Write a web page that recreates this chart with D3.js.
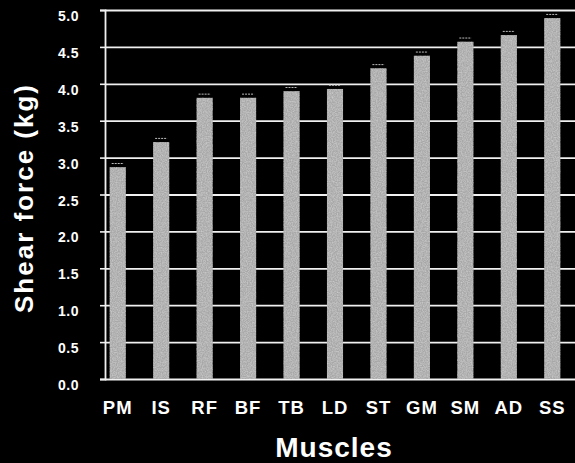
<!DOCTYPE html>
<html>
<head>
<meta charset="utf-8">
<script src="https://d3js.org/d3.v7.min.js"></script>
<style>
  body { margin: 0; background: #000; }
  text { font-family: "Liberation Sans", Arial, sans-serif; font-weight: bold; fill: #fff; }
</style>
</head>
<body>
<div id="chart"></div>
<script>
// muscles and mean shear force (kg)
const muscles = ["PM", "IS", "RF", "BF", "TB", "LD", "ST", "GM", "SM", "AD", "SS"];
const shearForce = [2.87, 3.21, 3.81, 3.81, 3.90, 3.93, 4.21, 4.38, 4.57, 4.66, 4.89];
const errorBar = [0.05, 0.05, 0.05, 0.05, 0.05, 0.05, 0.05, 0.05, 0.05, 0.05, 0.05];
const yTicks = [0, 0.5, 1, 1.5, 2, 2.5, 3, 3.5, 4, 4.5, 5];

const width = 575, height = 463;

const svg = d3.select("#chart")
    .append("svg")
    .attr("width", width)
    .attr("height", height);

svg.append("rect").attr("width", width).attr("height", height).attr("fill", "#000");

// grainy texture for the bars
const defs = svg.append("defs");
const f = defs.append("filter").attr("id", "grain")
    .attr("x", 0).attr("y", 0).attr("width", 1).attr("height", 1);
f.append("feTurbulence").attr("type", "fractalNoise")
    .attr("baseFrequency", 0.8).attr("numOctaves", 2).attr("seed", 3).attr("result", "noise");
f.append("feColorMatrix").attr("in", "noise").attr("type", "matrix")
    .attr("values", "0 0 0 0 0.6  0 0 0 0 0.6  0 0 0 0 0.6  0 0 0 -1.6 1.1")
    .attr("result", "speck");
f.append("feComposite").attr("in", "speck").attr("in2", "SourceGraphic").attr("operator", "in").attr("result", "sp");
f.append("feMerge").call(m => {
    m.append("feMergeNode").attr("in", "SourceGraphic");
    m.append("feMergeNode").attr("in", "sp");
});

const x = d3.scaleBand()
    .domain(muscles)
    .range([96, 574])
    .paddingInner(0.63)
    .paddingOuter(0.315);

const y = d3.scaleLinear()
    .domain([0, 5])
    .range([379, 10]);

const axisX = 105;

// gridlines, drawn as a tick-only axis running right
const grid = svg.append("g")
    .attr("transform", `translate(${axisX},0)`)
    .call(d3.axisRight(y).tickValues(yTicks).tickSize(width - axisX).tickFormat(""));
grid.select(".domain").remove();
grid.selectAll(".tick line")
    .attr("stroke", "#f0f0f0")
    .attr("stroke-width", 1.8);

// y axis
const yAxis = svg.append("g")
    .attr("transform", `translate(${axisX},0)`)
    .call(d3.axisLeft(y).tickValues(yTicks).tickFormat(d3.format(".1f")).tickSize(5).tickPadding(21));
yAxis.select(".domain").attr("stroke", "#f0f0f0").attr("stroke-width", 1.8);
yAxis.selectAll(".tick line").attr("stroke", "#f0f0f0").attr("stroke-width", 1.6);
yAxis.selectAll(".tick text")
    .attr("fill", "#fff")
    .attr("dy", "0.75em")
    .style("font-size", "14px")
    .style("letter-spacing", "0.5px")
    .style("font-weight", "bold")
    .style("font-family", "'Liberation Sans', Arial, sans-serif");

// bars
svg.append("g")
    .selectAll("rect")
    .data(muscles)
    .enter()
    .append("rect")
    .attr("x", d => x(d))
    .attr("y", (d, i) => y(shearForce[i]))
    .attr("width", x.bandwidth())
    .attr("height", (d, i) => y(0) - y(shearForce[i]))
    .attr("fill", "#a8a8a8")
    .attr("filter", "url(#grain)");

// small error caps above each bar
svg.append("g")
    .selectAll("line")
    .data(muscles)
    .enter()
    .append("line")
    .attr("x1", d => x(d) + 2)
    .attr("x2", d => x(d) + x.bandwidth() - 2)
    .attr("y1", (d, i) => y(shearForce[i] + errorBar[i]))
    .attr("y2", (d, i) => y(shearForce[i] + errorBar[i]))
    .attr("stroke", "#bbbbbb")
    .attr("stroke-width", 1)
    .attr("stroke-dasharray", "2,1");

// category labels
svg.append("g")
    .selectAll("text")
    .data(muscles)
    .enter()
    .append("text")
    .attr("x", d => x(d) + x.bandwidth() / 2)
    .attr("y", 414)
    .attr("text-anchor", "middle")
    .style("font-size", "18.5px")
    .style("letter-spacing", "1px")
    .text(d => d);

// axis titles
svg.append("text")
    .attr("x", 334)
    .attr("y", 457)
    .attr("text-anchor", "middle")
    .style("font-size", "28px")
    .style("letter-spacing", "1px")
    .text("Muscles");

svg.append("text")
    .attr("transform", "translate(33,198) rotate(-90)")
    .attr("text-anchor", "middle")
    .style("font-size", "26px")
    .style("letter-spacing", "2px")
    .text("Shear force (kg)");
</script>
</body>
</html>
